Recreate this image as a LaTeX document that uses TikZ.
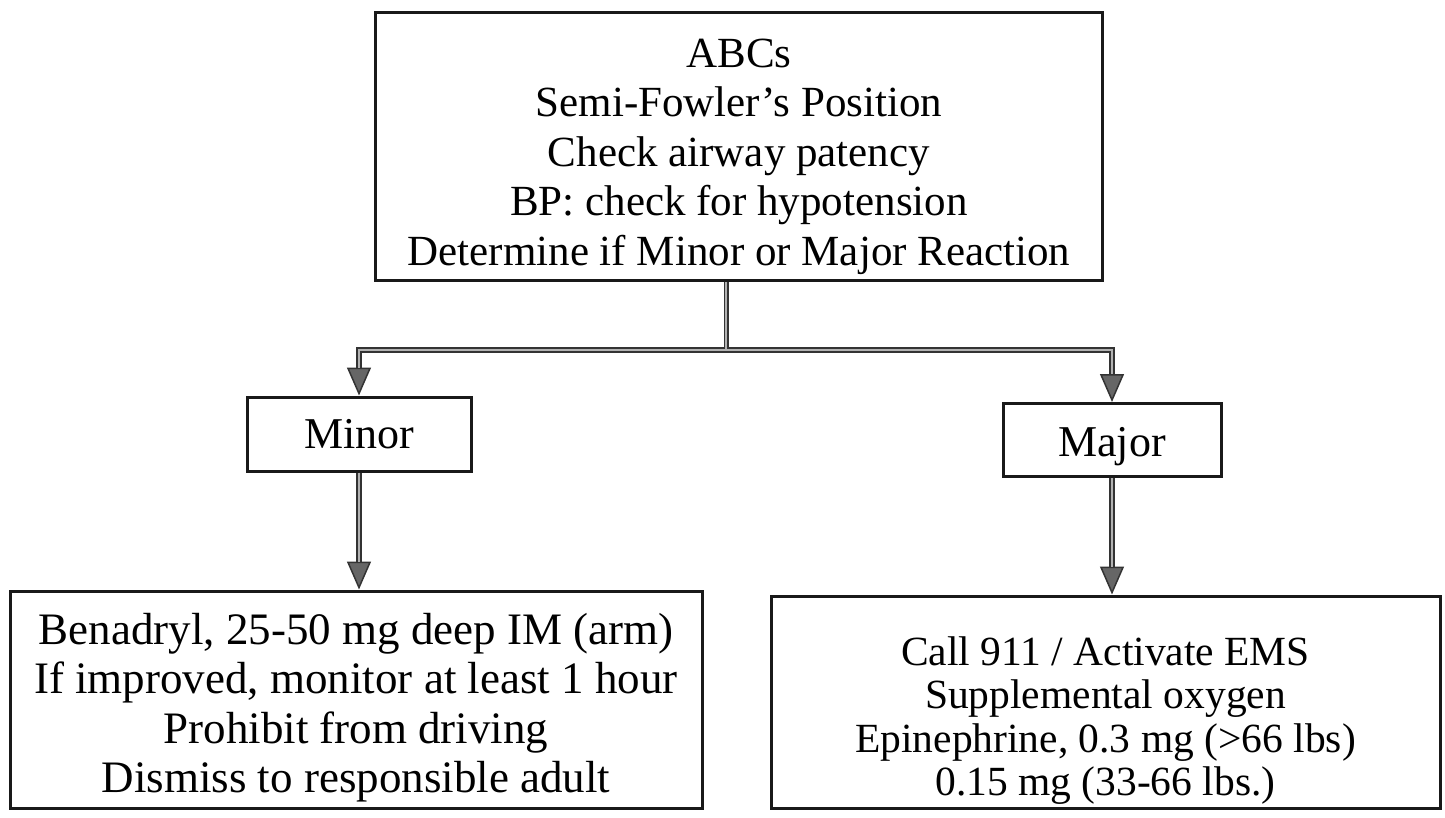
\documentclass[tikz,border=0pt]{standalone}
\usepackage{fontspec}
\setmainfont{Liberation Serif}
\usetikzlibrary{arrows.meta}
\newcommand{\firstline}[1]{\rule{0pt}{#1}}
\begin{document}
\begin{tikzpicture}[x=1pt,y=-1pt,
  box/.style={draw=black!90, line width=3pt, fill=white, align=center, inner sep=0pt},
  wire/.style={draw=black!80, line width=6pt, -{Triangle[length=28pt,width=24pt,line width=1.5pt,fill=black!60]}},
  wirenotip/.style={draw=black!80, line width=5pt},
  core/.style={draw=gray!60, line width=2.5pt}
]
\useasboundingbox (0,0) rectangle (1445,818);
\node[box, minimum width=727pt, minimum height=268pt, font=\fontsize{43}{49.5}\selectfont] (top) at (739,147)
  {\firstline{47.3pt}ABCs\\Semi-Fowler’s Position\\Check airway patency\\BP: check for hypotension\\Determine if Minor or Major Reaction};
\node[box, minimum width=224pt, minimum height=74pt, font=\fontsize{44}{48}\selectfont] (minor) at (359,434) {Minor};
\node[box, minimum width=218pt, minimum height=73pt, font=\fontsize{44}{48}\selectfont] (major) at (1112,440) {\firstline{42pt}Major};
\node[box, minimum width=692pt, minimum height=217pt, font=\fontsize{45}{49.5}\selectfont] (bl) at (356,699.5)
  {\firstline{48pt}Benadryl, 25-50 mg deep IM (arm)\\If improved, monitor at least 1 hour\\Prohibit from driving\\Dismiss to responsible adult};
\node[box, minimum width=669pt, minimum height=212pt, font=\fontsize{41.5}{43.5}\selectfont] (br) at (1105.5,702)
  {\firstline{66pt}Call 911 / Activate EMS\\Supplemental oxygen\\Epinephrine, 0.3 mg (>66 lbs)\\0.15 mg (33-66 lbs.)};
\coordinate (j) at (726,350);
% outer strokes
\draw[wirenotip] (top.south -| j) -- (j);
\draw[wire] (j) -| (minor.north);
\draw[wire] (j) -| (major.north);
\draw[wire] (minor.south) -- (bl.north -| minor.south);
\draw[wire] (major.south) -- (br.north -| major.south);
% inner cores
\draw[core] (top.south -| j) -- (j);
\draw[core, shorten >=28pt] (j) -| (minor.north);
\draw[core, shorten >=28pt] (j) -| (major.north);
\draw[core, shorten >=28pt] (minor.south) -- (bl.north -| minor.south);
\draw[core, shorten >=28pt] (major.south) -- (br.north -| major.south);
\end{tikzpicture}
\end{document}
